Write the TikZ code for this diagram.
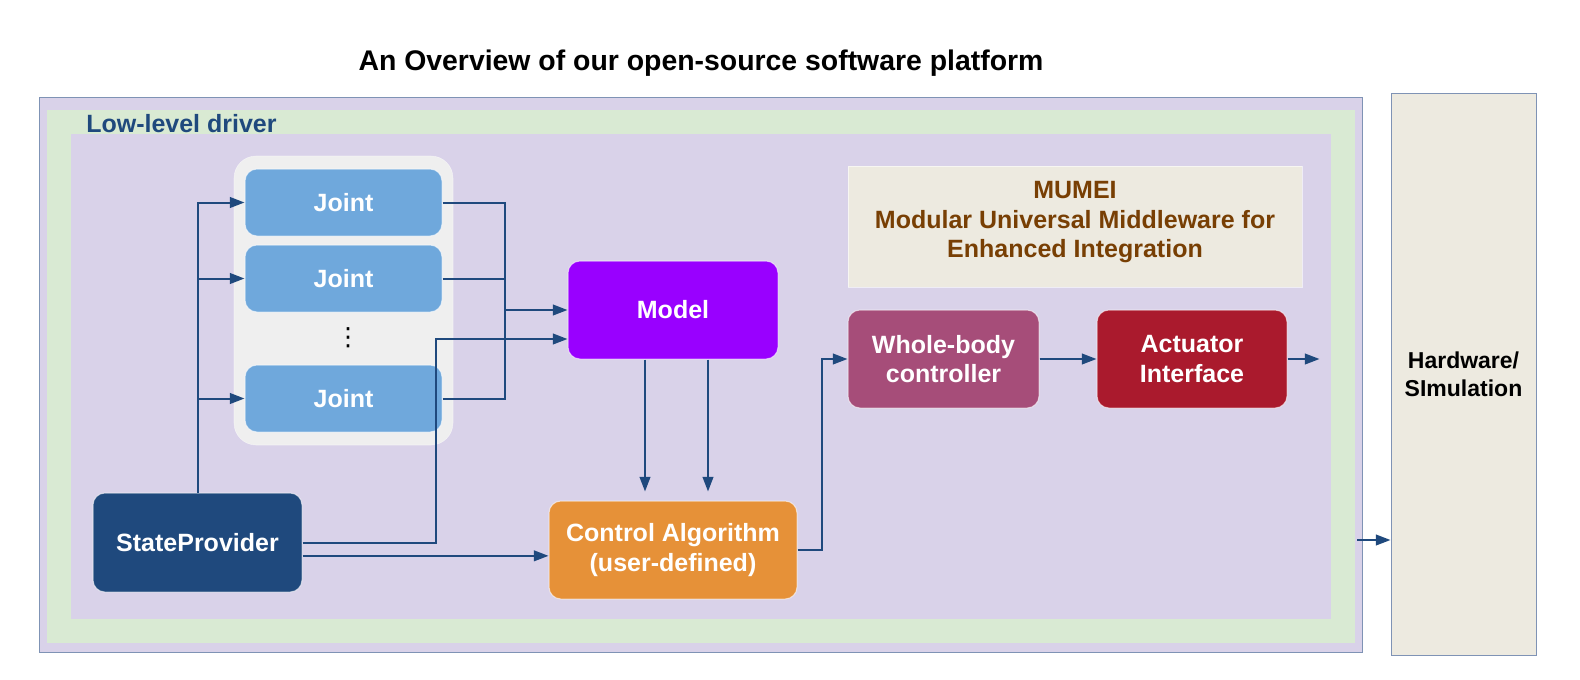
\documentclass[tikz,border=0pt]{standalone}
\usepackage{fontspec}
\setmainfont{Liberation Sans}
\newfontfamily\dotsfont{DejaVu Sans}
\usepackage{tikz}
\usetikzlibrary{arrows.meta}
\definecolor{lavender}{HTML}{D9D2E9}
\definecolor{greenbg}{HTML}{D9EAD3}
\definecolor{framegray}{HTML}{7F93B5}
\definecolor{panelgray}{HTML}{EFEFEF}
\definecolor{jointblue}{HTML}{6FA8DC}
\definecolor{modelviolet}{HTML}{9900FF}
\definecolor{flowblue}{HTML}{1F497D}
\definecolor{ctrlorange}{HTML}{E69138}
\definecolor{wbplum}{HTML}{A64D79}
\definecolor{actred}{HTML}{AA1A2D}
\definecolor{cream}{HTML}{EDEAE0}
\definecolor{mumeibrown}{HTML}{783F04}

\begin{document}
\begin{tikzpicture}[x=0.75pt,y=-0.75pt,every node/.style={font=\fontsize{18.75}{22}\selectfont\bfseries},box/.style={rounded corners=9pt,draw=white,draw opacity=0.6,line width=0.75pt,text=white,align=center,minimum height=73.5pt},joint/.style={box,fill=jointblue,minimum width=147.75pt,minimum height=50.25pt},flow/.style={draw=flowblue,line width=1.5pt,-{Triangle[length=11pt,width=8pt]}},wire/.style={draw=flowblue,line width=1.5pt}]
	\useasboundingbox (0,0) rectangle (1580,679);
	\node[font=\fontsize{21.3}{25}\selectfont\bfseries] (title) at (701,63) {An Overview of our open-source software platform};
	\node[draw=framegray,line width=0.75pt,fill=lavender,minimum width=992.25pt,minimum height=416.25pt] (platform) at (700.5,374.5) {};
	\node[fill=greenbg,minimum width=981pt,minimum height=399.75pt] (driver) at (701,376.5) {};
	\node[fill=lavender,minimum width=945pt,minimum height=363.75pt] (inner) at (701,376.5) {};
	\node[anchor=base west,inner sep=0pt,text=flowblue] (drvlabel) at (86,132) {Low-level driver};
	\node[draw=white,draw opacity=0.5,fill=panelgray,rounded corners=16.5pt,minimum width=164.25pt,minimum height=216.75pt] (joints) at (343.5,300.5) {};
	\node[joint] (j1) at (343.5,202.5) {Joint};
	\node[joint] (j2) at (343.5,278.5) {Joint};
	\node[font=\fontsize{18.75}{22}\dotsfont] (dots) at (348,338) {⋮};
	\node[joint] (j3) at (343.5,398.5) {Joint};
	\node[box,fill=modelviolet,minimum width=157.5pt] (model) at (673,310) {Model};
	\node[box,fill=flowblue,minimum width=156.75pt,minimum height=74.25pt] (sp) at (197.5,542.5) {StateProvider};
	\node[box,fill=ctrlorange,minimum width=186pt] (control) at (673,550) {Control Algorithm\\(user-defined)};
	\node[draw=white,draw opacity=0.6,fill=cream,text=mumeibrown,align=center,minimum width=340.5pt,minimum height=90.75pt,text depth=10.5pt] (mumei) at (1075,226.5) {MUMEI\\Modular Universal Middleware for\\Enhanced Integration};
	\node[box,fill=wbplum,minimum width=143.25pt] (wb) at (943.5,359) {Whole-body\\controller};
	\node[box,fill=actred,minimum width=142.5pt] (act) at (1192,359) {Actuator\\Interface};
	\node[draw=framegray,line width=0.75pt,fill=cream,align=center,minimum width=108.75pt,minimum height=421.5pt,font=\fontsize{17.25}{21}\selectfont\bfseries] (hw) at (1463.5,374) {Hardware/\\SImulation};
	\coordinate (jbus) at (505,310);
	\coordinate (spbend) at (436,339);
	\coordinate (hwin) at (1357,540);
	\draw[flow] (sp.north) |- (j1.west);
	\draw[flow] (sp.north) |- (j2.west);
	\draw[flow] (sp.north) |- (j3.west);
	\draw[wire] (j1.east) -| (jbus);
	\draw[wire] (j2.east) -| (jbus);
	\draw[wire] (j3.east) -| (jbus);
	\draw[flow] (jbus) -- (model.west);
	\draw[flow] (sp.east) -| (spbend) -- (spbend -| model.west);
	\draw[flow] ([yshift=-10pt]sp.east) -- ([yshift=-10pt]sp.east -| control.west);
	\draw[flow,shorten >=6.75pt] ([xshift=-21pt]model.south) -- ([xshift=-21pt]model.south |- control.north);
	\draw[flow,shorten >=6.75pt] ([xshift=26.25pt]model.south) -- ([xshift=26.25pt]model.south |- control.north);
	\draw[flow] (control.east) -| ([xshift=-19.5pt]wb.west) -- (wb.west);
	\draw[flow] (wb) -- (act);
	\draw[flow] (act.east) -- ++(32,0);
	\draw[flow] (hwin) -- (hwin -| hw.west);
\end{tikzpicture}
\end{document}
